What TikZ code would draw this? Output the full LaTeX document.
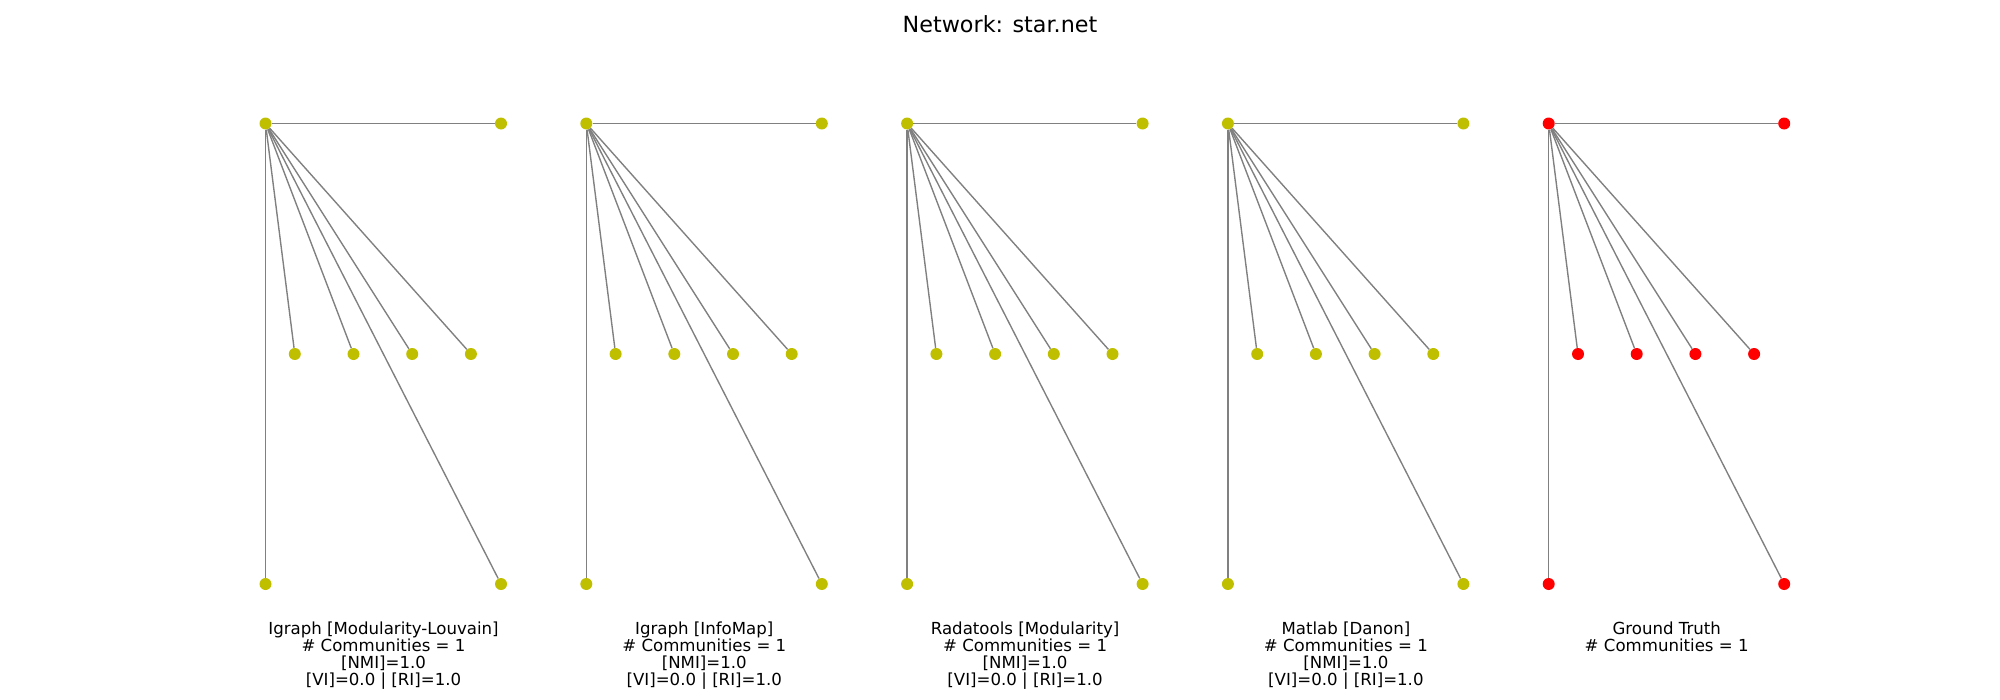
\documentclass[tikz,border=0pt]{standalone}
\usepackage{fontspec}
\setmainfont{DejaVu Sans}
\usetikzlibrary{positioning, calc}

\definecolor{commyellow}{rgb}{0.75,0.75,0}
\definecolor{commred}{rgb}{1,0,0}
\definecolor{edgegray}{rgb}{0.5,0.5,0.5}

\tikzset{
    vert/.style={circle, fill=#1, draw=none, inner sep=0pt, minimum size=9pt},
    link/.style={draw=edgegray, line width=1.04pt},
    caption/.style={align=center, anchor=north, inner sep=0pt,
        font=\fontsize{12.45pt}{12.75pt}\selectfont}
}

\begin{document}
\begin{tikzpicture}[x=0.75pt, y=-0.75pt]
    \useasboundingbox (0,0) rectangle (2000,700);
    % Figure title
    \node [anchor=base, inner sep=0pt, font=\fontsize{16.7pt}{20pt}\selectfont] (title) at (1000,32) {Network: star.net};
    % One star graph per method
    \foreach \p/\col/\lab in {
        0/commyellow/{Igraph [Modularity-Louvain]\\\# Communities = 1\\{[NMI]=1.0}\\{[VI]=0.0 | [RI]=1.0}},
        1/commyellow/{Igraph [InfoMap]\\\# Communities = 1\\{[NMI]=1.0}\\{[VI]=0.0 | [RI]=1.0}},
        2/commyellow/{Radatools [Modularity]\\\# Communities = 1\\{[NMI]=1.0}\\{[VI]=0.0 | [RI]=1.0}},
        3/commyellow/{Matlab [Danon]\\\# Communities = 1\\{[NMI]=1.0}\\{[VI]=0.0 | [RI]=1.0}},
        4/commred/{Ground Truth\\\# Communities = 1}} {
        \pgfmathsetmacro{\x}{265.5+320.8*\p}
        % Vertices
        \node [vert=\col] (hub\p) at (\x,123.5) {};
        \node [vert=\col] (tr\p) at (\x+235.5,123.5) {};
        \node [vert=\col] (bl\p) at (\x,584) {};
        \node [vert=\col] (br\p) at (\x+235.5,584) {};
        \foreach \i in {0,...,3}
            \node [vert=\col] (mid\p-\i) at (\x+29.3+58.7*\i,354) {};
        % Edges from the hub
        \draw [link] (hub\p) -- (tr\p);
        \draw [link] (hub\p) -- (bl\p);
        \draw [link] (hub\p) -- (br\p);
        \foreach \i in {0,...,3}
            \draw [link] (hub\p) -- (mid\p-\i);
        % Method and scores
        \node [caption] (cap\p) at (\x+118,622) {\lab};
    }
\end{tikzpicture}
\end{document}
